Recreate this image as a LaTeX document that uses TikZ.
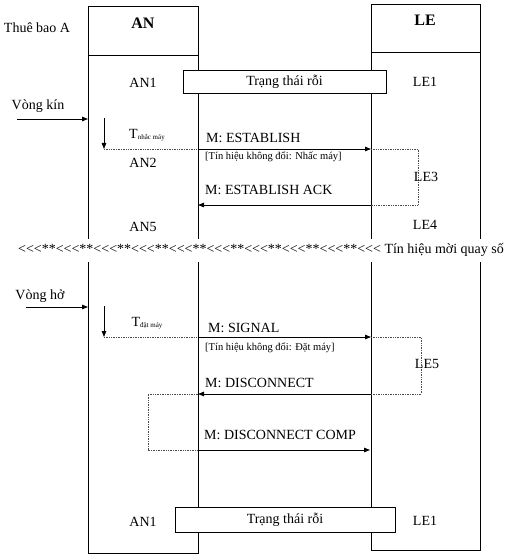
\documentclass[tikz,border=0pt]{standalone}
\usepackage{fontspec}
\setmainfont{Liberation Serif}
\newfontfamily\noligfont[Ligatures=TeXOff]{Liberation Serif}
\usetikzlibrary{arrows.meta}
\begin{document}
\begin{tikzpicture}[x=1pt,y=-1pt,
  every node/.style={inner sep=0pt, font=\fontsize{14}{16}\selectfont},
  small/.style={font=\fontsize{10.5}{12}\selectfont},
  head/.style={font=\fontsize{16}{18}\selectfont\bfseries},
  frame/.style={line width=0.9pt},
  headbox/.style={draw, line width=0.9pt, minimum width=110pt, minimum height=49pt, anchor=north west},
  msg/.style={line width=0.9pt, -{Triangle[length=6pt,width=4.5pt]}},
  dotln/.style={densely dotted, line width=0.7pt, black!70},
  statebox/.style={draw, line width=0.9pt, fill=white},
]
\useasboundingbox (0,0) rectangle (511,556);

% headers
\node[headbox] (anhead) at (88,6) {};
\node[headbox, minimum width=109pt, minimum height=48pt] (lehead) at (371,4) {};
\node[head] (antxt) at (143,23) {AN};
\node[head] (letxt) at (425,20) {LE};
\node (sub) at (37,28) {Thuê bao A};

% lifelines upper part
\draw[frame] (anhead.south west) -- ++(0,183);
\draw[frame] (anhead.south east) -- ++(0,183);
\draw[frame] (lehead.south west) -- ++(0,186);
\draw[frame] (lehead.south east) -- ++(0,186);
% lifelines lower part
\draw[frame] (88,262) -- (88,553) -- (198,553) -- (198,262);
\draw[frame] (371,262) -- (371,550) -- (480,550) -- (480,262);

% top idle state
\node[statebox, minimum width=203pt, minimum height=23pt] (idle1) at (284.5,81.5) {Trạng thái rỗi};
\node (an1) at (143,83) {AN1};
\node (le1) at (425,82) {LE1};

% closed loop
\node (vk) at (38,106) {Vòng kín};
\coordinate (vka) at (17,119);
\coordinate (vkb) at (88,119);
\draw[msg] (vka) -- (vkb);

\coordinate (t1a) at (104,118);
\coordinate (t1b) at (104,149);
\draw[msg] (t1a) -- (t1b);
\node (t1) at (147,135) {T\raisebox{-1.5pt}{\fontsize{7}{8}\selectfont nhắc máy}};

\coordinate (e1s) at (198,149);
\coordinate (e1e) at (371,149);
\coordinate (l3a) at (418,149);
\coordinate (l3b) at (418,205);
\coordinate (e2s) at (371,205);
\coordinate (e2e) at (198,205);
\draw[dotln] (t1b) -- (e1s);
\draw[msg] (e1s) -- (e1e);
\draw[dotln] (e1e) -- (l3a) -- (l3b) -- (e2s);
\draw[msg] (e2s) -- (e2e);
\node[anchor=west] (m1) at (206,138) {M: ESTABLISH};
\node[anchor=west, small] (b1) at (205,157) {[Tín hiệu không đổi: Nhấc máy]};
\node[anchor=west] (m2) at (205,190) {M: ESTABLISH ACK};
\node (an2) at (143,163) {AN2};
\node (le3) at (426,177) {LE3};
\node (an5) at (143,227) {AN5};
\node (le4) at (425,225) {LE4};

% separator
\node[font=\noligfont\fontsize{14}{16}\selectfont] (sep) at (261,250) {<<<**<<<**<<<**<<<**<<<**<<<**<<<**<<<**<<<**<<< Tín hiệu mời quay số};

% open loop
\node (vh) at (40,296) {Vòng hở};
\coordinate (vha) at (26,307);
\coordinate (vhb) at (88,307);
\draw[msg] (vha) -- (vhb);

\coordinate (t2a) at (104,306);
\coordinate (t2b) at (104,337);
\draw[msg] (t2a) -- (t2b);
\node (t2) at (147,323) {T\raisebox{-1.5pt}{\fontsize{7}{8}\selectfont đặt máy}};

\coordinate (s1s) at (198,337);
\coordinate (s1e) at (371,337);
\coordinate (l5a) at (421,337);
\coordinate (l5b) at (421,394);
\coordinate (d1s) at (371,394);
\coordinate (d1e) at (198,394);
\coordinate (c1a) at (148,394);
\coordinate (c1b) at (148,450);
\coordinate (c2s) at (198,450);
\coordinate (c2e) at (370,450);
\draw[dotln] (t2b) -- (s1s);
\draw[msg] (s1s) -- (s1e);
\draw[dotln] (s1e) -- (l5a) -- (l5b) -- (d1s);
\draw[msg] (d1s) -- (d1e);
\draw[dotln] (d1e) -- (c1a) -- (c1b) -- (c2s);
\draw[msg] (c2s) -- (c2e);
\node[anchor=west] (m3) at (208,328) {M: SIGNAL};
\node[anchor=west, small] (b2) at (205,348) {[Tín hiệu không đổi: Đặt máy]};
\node[anchor=west] (m4) at (205,383) {M: DISCONNECT};
\node[anchor=west] (m5) at (204,435) {M: DISCONNECT COMP};
\node (le5) at (427,364) {LE5};

% bottom idle state
\node[statebox, minimum width=220pt, minimum height=25pt] (idle2) at (285,519.5) {Trạng thái rỗi};
\node (an1b) at (143,522) {AN1};
\node (le1b) at (425,521) {LE1};
\end{tikzpicture}
\end{document}
